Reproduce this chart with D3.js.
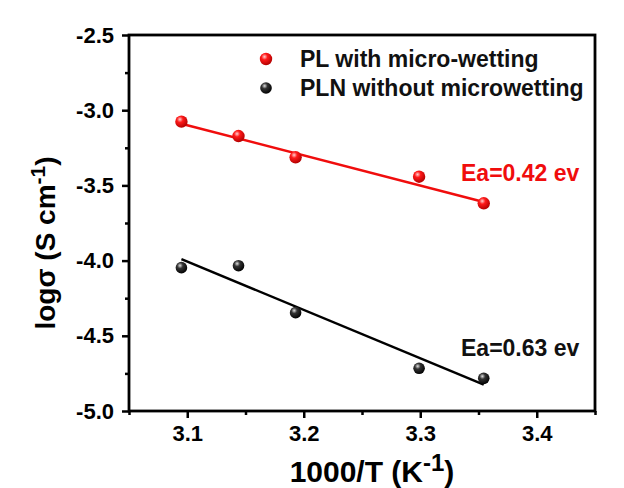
<!DOCTYPE html>
<html lang="en">
<head>
<meta charset="utf-8">
<title>logσ vs 1000/T</title>
<script src="https://d3js.org/d3.v7.min.js"></script>
<style type="text/css">
	body { margin:0; background:#fff; }
	svg text { font-family: "Liberation Sans", Arial, sans-serif; font-weight: bold; }
	.axis line { stroke: #000; stroke-width: 2.5px; }
	.axis text { fill: #000; font-size: 22px; }
</style>
</head>
<body>
<div id="chart"></div>
<script type="text/javascript">

// data
var invT       = [3.095, 3.144, 3.193, 3.299, 3.3545];
var sigmaPL    = [-3.076, -3.172, -3.313, -3.442, -3.619];
var sigmaPLN   = [-4.047, -4.034, -4.346, -4.716, -4.783];
// fitted lines (end points)
var fitX       = [3.095, 3.3545];
var fitPL      = [-3.09, -3.61];
var fitPLN     = [-3.99, -4.825];
// ticks
var xTicks     = [3.1, 3.2, 3.3, 3.4];
var xMinor     = [3.05, 3.15, 3.25, 3.35, 3.45];
var yTicks     = [-5.0, -4.5, -4.0, -3.5, -3.0, -2.5];
var yMinor     = [-4.75, -4.25, -3.75, -3.25, -2.75];
var seriesNames = ["PL with micro-wetting", "PLN without microwetting"];
var eaLabels   = ["Ea=0.42 ev", "Ea=0.63 ev"];

var w = 624, h = 488;
var mLeft = 129, mRight = 595, mTop = 35, mBottom = 411;
var red = "#f00d0d";
var bw = 2.8; // frame line width

var svg = d3.select("#chart").append("svg")
	.attr("width", w)
	.attr("height", h);

var defs = svg.append("defs");
function ball(id, c0, c1, c2) {
	var g = defs.append("radialGradient").attr("id", id)
		.attr("cx", "38%").attr("cy", "32%").attr("r", "70%");
	g.append("stop").attr("offset", "0%").attr("stop-color", c0);
	g.append("stop").attr("offset", "35%").attr("stop-color", c1);
	g.append("stop").attr("offset", "100%").attr("stop-color", c2);
}
ball("redBall", "#ffd0d0", "#ff1a1a", "#b00000");
ball("blackBall", "#e0e0e0", "#333", "#000");

var x = d3.scaleLinear().domain([3.05, 3.45]).range([mLeft, mRight]);
var y = d3.scaleLinear().domain([-5.0, -2.5]).range([mBottom, mTop]);

var fmt = function(d) { return d3.format(".1f")(d).replace("−", "-"); };

// axes
svg.append("g").attr("class", "axis")
	.attr("transform", "translate(0," + mBottom + ")")
	.call(d3.axisBottom(x).tickValues(xTicks).tickSize(7).tickSizeOuter(0).tickPadding(7).tickFormat(fmt));
svg.append("g").attr("class", "axis")
	.attr("transform", "translate(0," + mBottom + ")")
	.call(d3.axisBottom(x).tickValues(xMinor).tickSize(4).tickSizeOuter(0).tickFormat(""));
svg.append("g").attr("class", "axis")
	.attr("transform", "translate(" + mLeft + ",0)")
	.call(d3.axisLeft(y).tickValues(yTicks).tickSize(7).tickSizeOuter(0).tickPadding(8).tickFormat(fmt));
svg.append("g").attr("class", "axis")
	.attr("transform", "translate(" + mLeft + ",0)")
	.call(d3.axisLeft(y).tickValues(yMinor).tickSize(4).tickSizeOuter(0).tickFormat(""));

svg.selectAll(".axis path.domain").remove();

// frame along the scale ranges
var xr = x.range(), yr = y.range();
svg.append("rect")
	.attr("x", xr[0]).attr("y", yr[1])
	.attr("width", xr[1] - xr[0]).attr("height", yr[0] - yr[1])
	.style("fill", "none")
	.style("stroke", "#000")
	.style("stroke-width", bw + "px");

// fit lines
var line = d3.line().x(function(d) { return x(d[0]); }).y(function(d) { return y(d[1]); });
svg.append("path").datum(d3.zip(fitX, fitPL)).attr("d", line)
	.attr("stroke", red).attr("stroke-width", 2.5).attr("fill", "none");
svg.append("path").datum(d3.zip(fitX, fitPLN)).attr("d", line)
	.attr("stroke", "#000").attr("stroke-width", 2.5).attr("fill", "none");

// points
svg.selectAll(".pl").data(d3.zip(invT, sigmaPL)).enter().append("circle")
	.attr("cx", function(d) { return x(d[0]); })
	.attr("cy", function(d) { return y(d[1]); })
	.attr("r", 6.2).attr("fill", "url(#redBall)");
svg.selectAll(".pln").data(d3.zip(invT, sigmaPLN)).enter().append("circle")
	.attr("cx", function(d) { return x(d[0]); })
	.attr("cy", function(d) { return y(d[1]); })
	.attr("r", 5.8).attr("fill", "url(#blackBall)");

// legend
var leg = [[59, "redBall", 6.2], [88, "blackBall", 5.8]];
leg.forEach(function(l, i) {
	svg.append("circle").attr("cx", 266).attr("cy", l[0]).attr("r", l[2]).attr("fill", "url(#" + l[1] + ")");
	svg.append("text").attr("x", 300).attr("y", l[0] + 8)
		.attr("font-size", 23).attr("fill", "#111").text(seriesNames[i]);
});

// Ea labels
svg.append("text").attr("x", 461).attr("y", 181).attr("font-size", 23)
	.attr("fill", red).text(eaLabels[0]);
svg.append("text").attr("x", 461).attr("y", 356).attr("font-size", 23)
	.attr("fill", "#111").text(eaLabels[1]);

// axis titles
var xt = svg.append("text").attr("x", 372).attr("y", 482)
	.attr("text-anchor", "middle").attr("font-size", 30).attr("fill", "#000");
xt.append("tspan").text("1000/T (K");
xt.append("tspan").attr("dy", -11).attr("font-size", 24).text("-1");
xt.append("tspan").attr("dy", 11).text(")");

var yt = svg.append("text")
	.attr("transform", "translate(55,243) rotate(-90)")
	.attr("text-anchor", "middle").attr("font-size", 28).attr("fill", "#000");
yt.append("tspan").text("logσ (S cm");
yt.append("tspan").attr("dy", -10).attr("font-size", 21).text("-1");
yt.append("tspan").attr("dy", 10).text(")");

</script>
</body>
</html>
